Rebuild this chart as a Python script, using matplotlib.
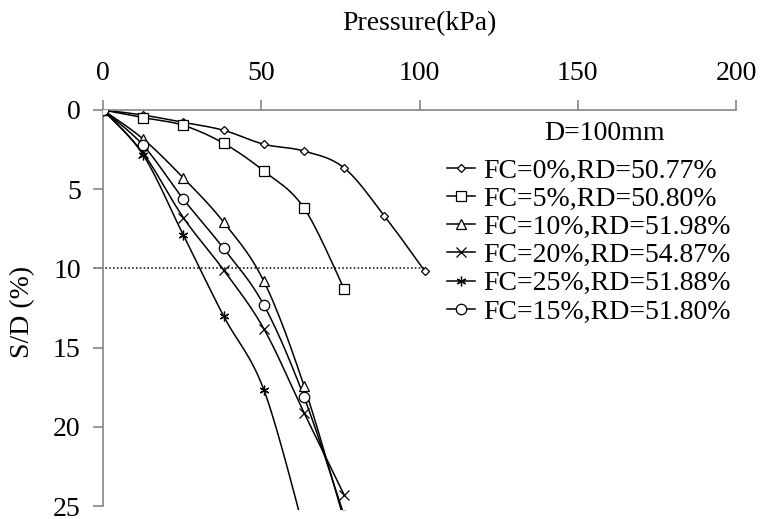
import numpy as np
import matplotlib
import matplotlib.pyplot as plt
from matplotlib.lines import Line2D

matplotlib.use('Agg')

plt.rcParams['font.family'] = ['Liberation Serif', 'DejaVu Serif']
plt.rcParams['font.size'] = 20

# load steps (kPa)
pressure = [0, 12.7, 25.4, 38.1, 50.8, 63.5, 76.2, 88.9, 101.6]

labels = ['FC=0%,RD=50.77%', 'FC=5%,RD=50.80%', 'FC=10%,RD=51.98%',
          'FC=20%,RD=54.87%', 'FC=25%,RD=51.88%', 'FC=15%,RD=51.80%']

# settlement ratio S/D (%) per load step; last points of some series run past the axis
sd_fc0 = [0, 0.32, 0.78, 1.28, 2.16, 2.59, 3.66, 6.68, 10.15]
sd_fc5 = [0, 0.48, 0.97, 2.1, 3.85, 6.18, 11.3]
sd_fc10 = [0, 1.83, 4.29, 7.08, 10.8, 17.4, 25.9]
sd_fc20 = [0, 2.73, 6.8, 10.1, 13.8, 19.1, 24.3]
sd_fc25 = [0, 2.84, 7.9, 13.0, 17.65, 26.5]
sd_fc15 = [0, 2.23, 5.63, 8.74, 12.3, 18.1, 25.6]

series = [sd_fc0, sd_fc5, sd_fc10, sd_fc20, sd_fc25, sd_fc15]
markers = ['D', 's', '^', 'x', (6, 2, 0), 'o']
msizes = [4.5, 6.5, 6.5, 6.5, 7, 7.5]


def smooth(xs, ys, n=24):
    # Excel-like smoothed line (Catmull-Rom style bezier)
    pts = np.column_stack([xs, ys]).astype(float)
    out = [pts[0]]
    t = np.linspace(0, 1, n)[1:, None]
    for i in range(len(pts) - 1):
        p0 = pts[i - 1] if i > 0 else pts[i]
        p1 = pts[i]
        p2 = pts[i + 1]
        p3 = pts[i + 2] if i + 2 < len(pts) else pts[i + 1]
        c1 = p1 + (p2 - p0) / 6
        c2 = p2 - (p3 - p1) / 6
        seg = (1 - t) ** 3 * p1 + 3 * (1 - t) ** 2 * t * c1 + 3 * (1 - t) * t ** 2 * c2 + t ** 3 * p2
        out.extend(seg)
    return np.array(out)


W, H = 760, 519
fig = plt.figure(figsize=(W / 100, H / 100), dpi=100)
ax = fig.add_axes([103 / W, 1 - 510 / H, (736 - 103) / W, 400 / H])

handles = []
for sd, mk, ms, lab in zip(series, markers, msizes, labels):
    xs = pressure[:len(sd)]
    curve = smooth(xs, sd)
    ax.plot(curve[:, 0], curve[:, 1], color='black', lw=1.1, zorder=2)
    ax.plot(xs, sd, ls='none', marker=mk, ms=ms, mfc='white', mec='black',
            mew=0.9, zorder=3)
    handles.append(Line2D([], [], color='black', lw=1.1, marker=mk, ms=ms,
                          mfc='white', mec='black', mew=0.9, label=lab))

# reference line at S/D = 10 %
ax.plot([-3, pressure[-1]], [10, 10], color='black', ls=(0, (1, 1.5)), lw=1.1,
        clip_on=False, zorder=1)

ax.set_xlim(0, 200)
ax.set_ylim(25.25, 0)
ax.set_xticks([0, 50, 100, 150, 200])
ax.set_yticks([0, 5, 10, 15, 20, 25])
ax.xaxis.tick_top()
for side in ['right', 'bottom']:
    ax.spines[side].set_visible(False)
for side in ['top', 'left']:
    ax.spines[side].set_color('#858585')
    ax.spines[side].set_linewidth(1.2)
ax.spines['left'].set_bounds(0, 25)
ax.tick_params(axis='both', direction='out', length=7, width=1.2, color='#858585',
               labelsize=20)
ax.tick_params(axis='x', pad=10)
ax.tick_params(axis='y', pad=9)
ax.patch.set_alpha(0)

fig.text(419.5 / W, 1 - 24 / H, 'Pressure(kPa)', ha='center', va='center', fontsize=20)
fig.text(23 / W, 1 - 312 / H, 'S/D (%)', ha='center', va='center', rotation=90, fontsize=20)
fig.text(605 / W, 1 - 134 / H, 'D=100mm', ha='center', va='center', fontsize=20)

ax.legend(handles=handles, loc='upper left', bbox_to_anchor=(447 / W, 1 - 158 / H),
          bbox_transform=fig.transFigure, frameon=False, borderpad=0, borderaxespad=0,
          handlelength=1.0, handletextpad=0.3, labelspacing=0.1, fontsize=20)

fig.savefig('out.png', dpi=100)
